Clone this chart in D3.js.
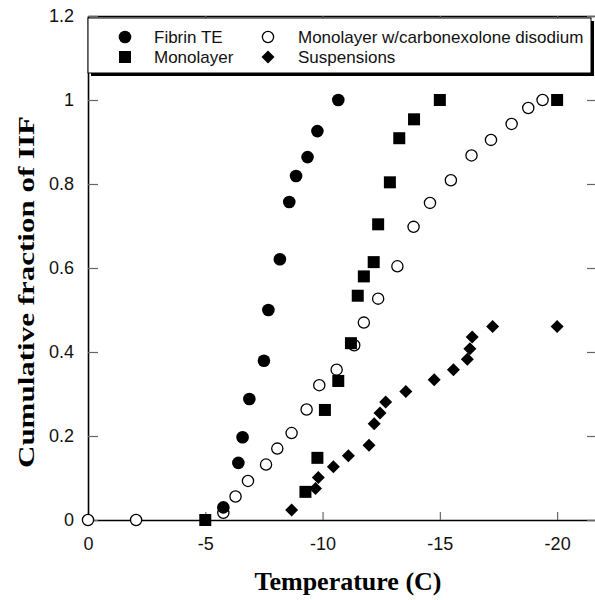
<!DOCTYPE html>
<html>
<head>
<meta charset="utf-8">
<script src="https://cdn.jsdelivr.net/npm/d3@7/dist/d3.min.js"></script>
<style>
  html, body { margin: 0; padding: 0; background: #ffffff; }
  svg { display: block; }
</style>
</head>
<body>
<svg id="chart" width="595" height="600"></svg>
<script>
// Cumulative fraction of intracellular ice formation (IIF) vs temperature
const fibrinTE = [
  [-5.77, 0.030], [-6.41, 0.136], [-6.59, 0.197], [-6.88, 0.288],
  [-7.50, 0.379], [-7.69, 0.500], [-8.18, 0.621], [-8.58, 0.757],
  [-8.87, 0.819], [-9.36, 0.864], [-9.78, 0.926], [-10.67, 1.000]
];
const monolayer = [
  [-5.00, 0.000], [-9.27, 0.067], [-9.78, 0.148], [-10.10, 0.262],
  [-10.67, 0.331], [-11.21, 0.421], [-11.50, 0.534], [-11.76, 0.580],
  [-12.18, 0.614], [-12.37, 0.704], [-12.87, 0.804], [-13.27, 0.909],
  [-13.90, 0.954], [-15.00, 1.000], [-20.00, 1.000]
];
const monolayerCbx = [
  [0.00, 0.000], [-2.05, 0.000], [-5.77, 0.017], [-6.29, 0.056],
  [-6.82, 0.093], [-7.59, 0.132], [-8.07, 0.170], [-8.68, 0.207],
  [-9.32, 0.263], [-9.86, 0.321], [-10.60, 0.358], [-11.35, 0.416],
  [-11.76, 0.470], [-12.37, 0.527], [-13.19, 0.604], [-13.88, 0.698],
  [-14.58, 0.755], [-15.47, 0.809], [-16.35, 0.868], [-17.18, 0.905],
  [-18.06, 0.943], [-18.77, 0.981], [-19.38, 1.000]
];
const suspensions = [
  [-8.68, 0.024], [-9.70, 0.075], [-9.82, 0.101], [-10.46, 0.127],
  [-11.10, 0.153], [-11.98, 0.178], [-12.20, 0.229], [-12.45, 0.255],
  [-12.69, 0.281], [-13.55, 0.306], [-14.76, 0.334], [-15.58, 0.358],
  [-16.17, 0.383], [-16.28, 0.408], [-16.38, 0.436], [-17.25, 0.461],
  [-20.00, 0.461]
];

const xTicks = [0, -5, -10, -15, -20];
const xTickLabels = ["0", "-5", "-10", "-15", "-20"];
const yTicks = [0, 0.2, 0.4, 0.6, 0.8, 1.0, 1.2];
const yTickLabels = ["0", "0.2", "0.4", "0.6", "0.8", "1", "1.2"];

const legendNames = ["Fibrin TE", "Monolayer", "Monolayer w/carbonexolone disodium", "Suspensions"];

const svg = d3.select("#chart");
const W = 595, H = 600;
const plot = { left: 88, right: 597, top: 16, bottom: 520 };

svg.append("rect").attr("width", W).attr("height", H).attr("fill", "#ffffff");

const x = d3.scaleLinear().domain([0, -21.7]).range([plot.left, plot.right]);
const y = d3.scaleLinear().domain([0, 1.2]).range([plot.bottom, plot.top]);

// Axes with inward ticks on all four sides
const tickFmtX = (d) => xTickLabels[xTicks.indexOf(d)];
const tickFmtY = (d) => yTickLabels[yTicks.indexOf(d)];

const gx = svg.append("g").attr("transform", `translate(0,${plot.bottom})`)
  .call(d3.axisBottom(x).tickValues(xTicks).tickFormat(tickFmtX).tickSizeInner(-8).tickSizeOuter(0).tickPadding(17));
const gxTop = svg.append("g").attr("transform", `translate(0,${plot.top})`)
  .call(d3.axisTop(x).tickValues(xTicks).tickFormat("").tickSizeInner(-8).tickSizeOuter(0));
const gy = svg.append("g").attr("transform", `translate(${plot.left},0)`)
  .call(d3.axisLeft(y).tickValues(yTicks).tickFormat(tickFmtY).tickSizeInner(-10).tickSizeOuter(0).tickPadding(14));
const gyRight = svg.append("g").attr("transform", `translate(${plot.right},0)`)
  .call(d3.axisRight(y).tickValues(yTicks).tickFormat("").tickSizeInner(-10).tickSizeOuter(0));

[gx, gxTop, gy, gyRight].forEach(g => {
  g.select(".domain").attr("stroke", "#000").attr("stroke-width", 1.6);
  g.selectAll(".tick line").attr("stroke", "#666").attr("stroke-width", 1.2);
  g.selectAll(".tick text")
    .attr("font-family", "Liberation Sans, Arial, sans-serif")
    .attr("font-size", 18).attr("fill", "#111");
});

// Axis titles
svg.append("text")
  .attr("x", 348).attr("y", 590)
  .attr("text-anchor", "middle")
  .attr("font-family", "Liberation Serif, Times New Roman, serif")
  .attr("font-weight", "bold").attr("font-size", 26)
  .text("Temperature (C)");

svg.append("text")
  .attr("transform", "translate(34,292) rotate(-90)")
  .attr("text-anchor", "middle")
  .attr("font-family", "Liberation Serif, Times New Roman, serif")
  .attr("font-weight", "bold").attr("font-size", 24)
  .attr("textLength", 352).attr("lengthAdjust", "spacingAndGlyphs")
  .text("Cumulative fraction of IIF");

// Marker shapes
const R = 6.3;
function drawMarker(g, kind, cx, cy) {
  if (kind === "circle") {
    g.append("circle").attr("cx", cx).attr("cy", cy).attr("r", R).attr("fill", "#000");
  } else if (kind === "open") {
    g.append("circle").attr("cx", cx).attr("cy", cy).attr("r", 5.6)
      .attr("fill", "#fff").attr("stroke", "#000").attr("stroke-width", 1.3);
  } else if (kind === "square") {
    g.append("rect").attr("x", cx - 6).attr("y", cy - 6).attr("width", 12).attr("height", 12).attr("fill", "#000");
  } else if (kind === "diamond") {
    g.append("path")
      .attr("d", `M${cx},${cy - 6.5}L${cx + 6.5},${cy}L${cx},${cy + 6.5}L${cx - 6.5},${cy}Z`)
      .attr("fill", "#000");
  }
}

const series = [
  { data: monolayerCbx, kind: "open" },
  { data: fibrinTE, kind: "circle" },
  { data: monolayer, kind: "square" },
  { data: suspensions, kind: "diamond" }
];

const pts = svg.append("g");
series.forEach(s => {
  s.data.forEach(d => drawMarker(pts, s.kind, x(d[0]), y(d[1])));
});

// Legend box with drop shadow
const lg = svg.append("g");
const box = { x: 88, y: 18, w: 503, h: 55 };
lg.append("rect").attr("x", box.x + 3).attr("y", box.y + 3).attr("width", box.w).attr("height", box.h).attr("fill", "#000");
lg.append("rect").attr("x", box.x).attr("y", box.y).attr("width", box.w).attr("height", box.h)
  .attr("fill", "#fff").attr("stroke", "#000").attr("stroke-width", 1);

const legendItems = [
  { name: legendNames[0], kind: "circle", mx: 125, my: 37, tx: 154 },
  { name: legendNames[1], kind: "square", mx: 125, my: 57, tx: 154 },
  { name: legendNames[2], kind: "open", mx: 268, my: 37, tx: 298 },
  { name: legendNames[3], kind: "diamond", mx: 268, my: 57, tx: 298 }
];
legendItems.forEach(it => {
  drawMarker(lg, it.kind, it.mx, it.my);
  lg.append("text").attr("x", it.tx).attr("y", it.my + 6)
    .attr("font-family", "Liberation Sans, Arial, sans-serif")
    .attr("font-size", 17).attr("fill", "#111").text(it.name);
});
</script>
</body>
</html>
